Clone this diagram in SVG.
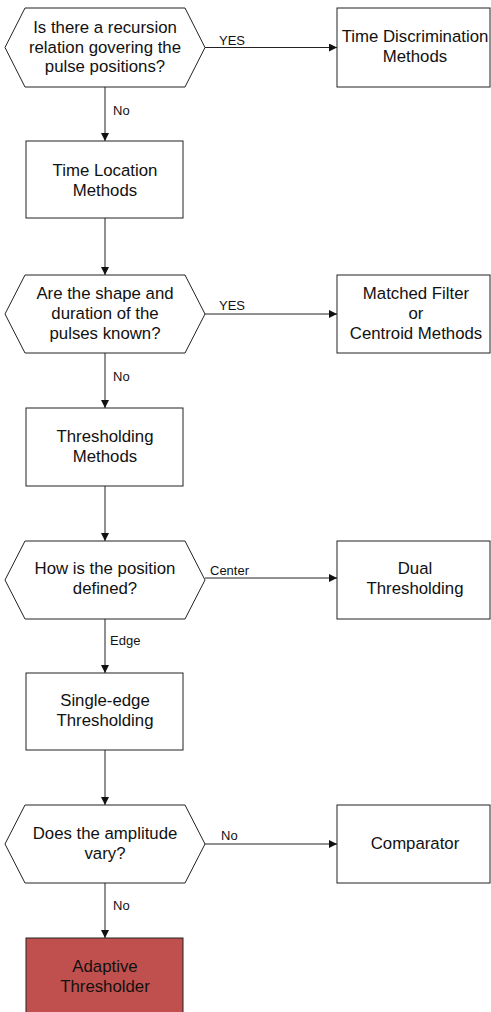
<svg xmlns="http://www.w3.org/2000/svg" width="491" height="1012" viewBox="0 0 491 1012">
<defs>
<style>
.shape{fill:#fff;stroke:#222;stroke-width:1}
.red{fill:#C0504D;stroke:#222;stroke-width:1}
.t{font-family:"Liberation Sans",Arial,sans-serif;font-size:16.8px;fill:#111;text-anchor:middle}
.lbl{font-family:"Liberation Sans",Arial,sans-serif;font-size:13px;fill:#111}
.conn{stroke:#222;stroke-width:1;fill:none;marker-end:url(#arr)}
</style>
<marker id="arr" viewBox="0 0 8 8" refX="8" refY="4" markerWidth="8" markerHeight="8" markerUnits="userSpaceOnUse" orient="auto">
<path d="M0,0 L8,4 L0,8 Z" fill="#111"/>
</marker>
</defs>
<rect width="491" height="1012" fill="#fff"/>
<g id="connectors">
<line class="conn" x1="205" y1="47.5" x2="337" y2="47.5"/>
<line class="conn" x1="105" y1="87" x2="105" y2="141"/>
<line class="conn" x1="105" y1="218" x2="105" y2="275"/>
<line class="conn" x1="205" y1="314" x2="337" y2="314"/>
<line class="conn" x1="105" y1="353" x2="105" y2="408"/>
<line class="conn" x1="105" y1="486" x2="105" y2="541"/>
<line class="conn" x1="205" y1="578" x2="337" y2="578"/>
<line class="conn" x1="105" y1="619" x2="105" y2="673"/>
<line class="conn" x1="105" y1="750" x2="105" y2="805"/>
<line class="conn" x1="205" y1="844" x2="337" y2="844"/>
<line class="conn" x1="105" y1="883" x2="105" y2="938"/>
<text class="lbl" x="219" y="45">YES</text>
<text class="lbl" x="113" y="115">No</text>
<text class="lbl" x="219" y="310">YES</text>
<text class="lbl" x="113" y="381">No</text>
<text class="lbl" x="210" y="575">Center</text>
<text class="lbl" x="110" y="645">Edge</text>
<text class="lbl" x="221" y="840">No</text>
<text class="lbl" x="113" y="910">No</text>
</g>
<g id="q1">
<polygon class="shape" points="25,8 185,8 205,47.5 185,87 25,87 5,47.5"/>
<text class="t" x="105" y="33">Is there a recursion</text>
<text class="t" x="105" y="52.5">relation govering the</text>
<text class="t" x="105" y="72">pulse positions?</text>
</g>
<g id="timeDiscrimination">
<rect class="shape" x="337" y="8" width="153" height="79"/>
<text class="t" x="415" y="42">Time Discrimination</text>
<text class="t" x="415" y="62">Methods</text>
</g>
<g id="timeLocation">
<rect class="shape" x="26" y="141" width="157" height="77"/>
<text class="t" x="105" y="175.5">Time Location</text>
<text class="t" x="105" y="195.5">Methods</text>
</g>
<g id="q2">
<polygon class="shape" points="25,275 185,275 205,314 185,353 25,353 5,314"/>
<text class="t" x="105" y="299">Are the shape and</text>
<text class="t" x="105" y="319">duration of the</text>
<text class="t" x="105" y="339">pulses known?</text>
</g>
<g id="matchedFilter">
<rect class="shape" x="337" y="275" width="153" height="78"/>
<text class="t" x="416" y="299">Matched Filter</text>
<text class="t" x="416" y="319">or</text>
<text class="t" x="416" y="339">Centroid Methods</text>
</g>
<g id="thresholding">
<rect class="shape" x="26" y="408" width="157" height="78"/>
<text class="t" x="105" y="442">Thresholding</text>
<text class="t" x="105" y="462">Methods</text>
</g>
<g id="q3">
<polygon class="shape" points="25,541 185,541 205,580 185,619 25,619 5,580"/>
<text class="t" x="105" y="574">How is the position</text>
<text class="t" x="105" y="594">defined?</text>
</g>
<g id="dualThresholding">
<rect class="shape" x="337" y="541" width="153" height="78"/>
<text class="t" x="415" y="574">Dual</text>
<text class="t" x="415" y="594">Thresholding</text>
</g>
<g id="singleEdge">
<rect class="shape" x="26" y="673" width="157" height="77"/>
<text class="t" x="105" y="706">Single-edge</text>
<text class="t" x="105" y="726">Thresholding</text>
</g>
<g id="q4">
<polygon class="shape" points="25,805 185,805 205,844 185,883 25,883 5,844"/>
<text class="t" x="105" y="839">Does the amplitude</text>
<text class="t" x="105" y="859">vary?</text>
</g>
<g id="comparator">
<rect class="shape" x="337" y="805" width="153" height="78"/>
<text class="t" x="415" y="849">Comparator</text>
</g>
<g id="adaptive">
<rect class="red" x="26" y="938" width="157" height="80"/>
<text class="t" x="105" y="972">Adaptive</text>
<text class="t" x="105" y="992">Thresholder</text>
</g>
</svg>
